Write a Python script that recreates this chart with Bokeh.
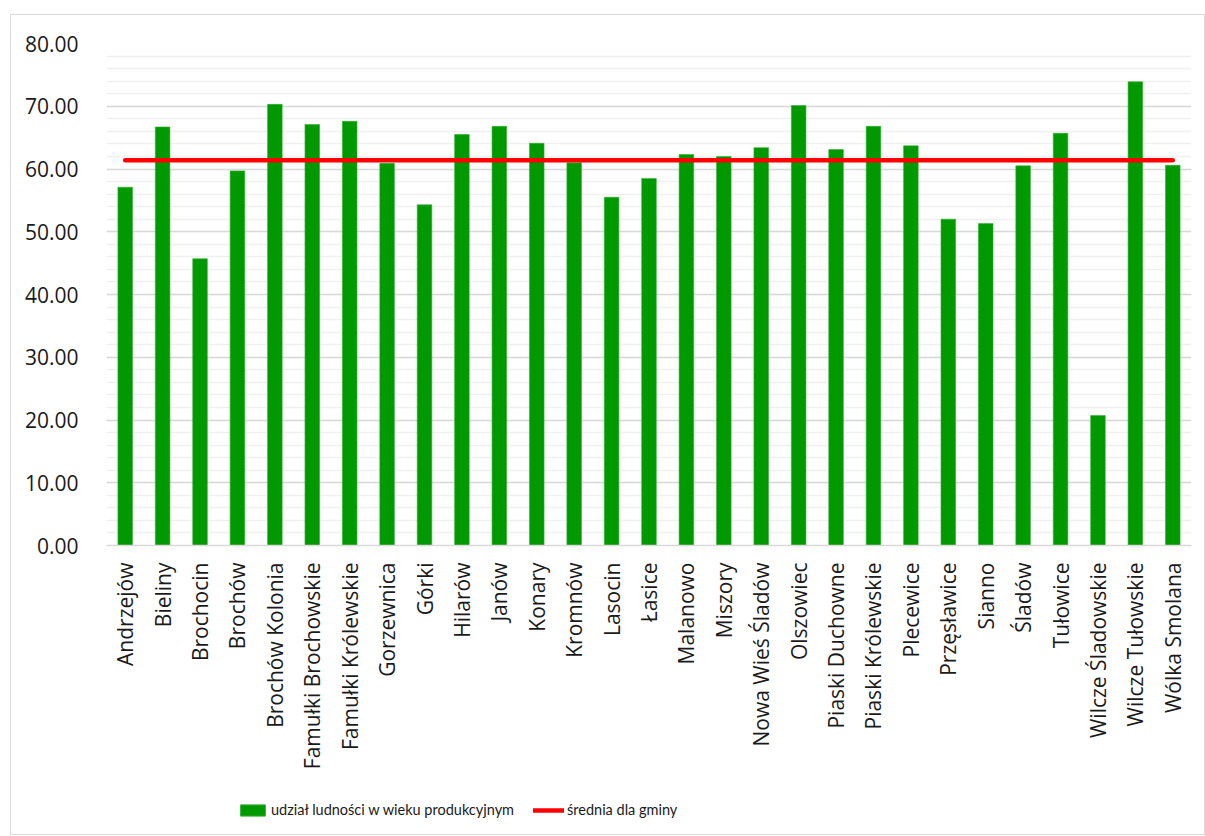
import math
from bokeh.plotting import figure
from bokeh.layouts import column
from bokeh.models import (FactorRange, Range1d, SingleIntervalTicker, NumeralTickFormatter,
                          Legend, LegendItem, ColumnDataSource)
from bokeh.embed import file_html
from bokeh.resources import INLINE

miejscowosci = ["Andrzejów", "Bieliny", "Brochocin", "Brochów", "Brochów Kolonia",
                "Famułki Brochowskie", "Famułki Królewskie", "Gorzewnica", "Górki", "Hilarów",
                "Janów", "Konary", "Kromnów", "Lasocin", "Łasice", "Malanowo", "Miszory",
                "Nowa Wieś Śladów", "Olszowiec", "Piaski Duchowne", "Piaski Królewskie",
                "Plecewice", "Przęsławice", "Sianno", "Śladów", "Tułowice",
                "Wilcze Śladowskie", "Wilcze Tułowskie", "Wólka Smolana"]
udzial = [57.1, 66.7, 45.7, 59.7, 70.3, 67.1, 67.6, 60.9, 54.3, 65.5,
          66.8, 64.1, 61.0, 55.5, 58.5, 62.3, 62.0, 63.4, 70.1, 63.1,
          66.8, 63.7, 52.0, 51.3, 60.5, 65.7, 20.7, 73.9, 60.6]
srednia = 61.4
seria_bar = "udział ludności w wieku produkcyjnym"
seria_line = "średnia dla gminy"

BAR_COLOR = "#009900"
BAR_EDGE = "#33b033"
LINE_COLOR = "#ff0000"

src = ColumnDataSource(dict(x=miejscowosci, y=udzial, avg=[srednia] * len(miejscowosci)))

p = figure(x_range=FactorRange(*miejscowosci, range_padding=0), y_range=Range1d(0, 80),
           width=1193, height=770, output_backend="svg", toolbar_location=None,
           min_border_left=95, min_border_right=13, min_border_top=28, min_border_bottom=240)
p.outline_line_color = None
p.background_fill_color = "white"
p.border_fill_color = "white"

bars = p.vbar(x="x", top="y", width=0.39, source=src, fill_color=BAR_COLOR,
              line_color=BAR_EDGE, line_width=0.6)
line = p.line(x="x", y="avg", source=src, line_color=LINE_COLOR, line_width=4.5, line_cap="round")

p.yaxis.ticker = SingleIntervalTicker(interval=10, num_minor_ticks=5)
p.yaxis.formatter = NumeralTickFormatter(format="0.00")
p.yaxis.axis_line_color = None
p.yaxis.major_tick_line_color = None
p.yaxis.minor_tick_line_color = None
p.yaxis.major_label_standoff = 22
p.yaxis.major_label_text_font = "Open Sans"
p.yaxis.major_label_text_font_size = "21px"
p.yaxis.major_label_text_color = "#1a1a1a"

p.ygrid.grid_line_color = "#d9d9d9"
p.ygrid.grid_line_width = 1.3
p.ygrid.minor_grid_line_color = "#f0f0f0"
p.ygrid.minor_grid_line_width = 1.3
p.xgrid.grid_line_color = None

p.xaxis.axis_line_color = "#d9d9d9"
p.xaxis.axis_line_width = 1.5
p.xaxis.major_tick_line_color = None
p.xaxis.minor_tick_line_color = None
p.xaxis.major_label_orientation = math.pi / 2
p.xaxis.major_label_standoff = 11
p.xaxis.major_label_text_font = "Open Sans"
p.xaxis.major_label_text_font_size = "21px"
p.xaxis.major_label_text_color = "#1a1a1a"

# legend strip below the chart (sample glyphs lie far outside the visible range)
p2 = figure(width=1193, height=49, output_backend="svg", toolbar_location=None,
            x_range=Range1d(0, 1), y_range=Range1d(0, 1), x_axis_type=None, y_axis_type=None,
            min_border=0)
p2.outline_line_color = None
p2.xgrid.visible = False
p2.ygrid.visible = False
lb = p2.vbar(x=[-50], top=[-50], bottom=[-51], width=0.5, fill_color=BAR_COLOR, line_color=BAR_EDGE)
ll = p2.line(x=[-50, -49], y=[-50, -50], line_color=LINE_COLOR, line_width=4.5, line_cap="round")

common = dict(orientation="horizontal", padding=0, margin=0, glyph_width=31, glyph_height=14,
              label_standoff=3, label_text_font="Lato", label_text_font_size="14.5px",
              label_text_color="#1a1a1a", border_line_alpha=0, background_fill_alpha=0)
leg1 = Legend(items=[LegendItem(label=seria_bar, renderers=[lb])], location=(131, 16), **common)
leg2 = Legend(items=[LegendItem(label=seria_line, renderers=[ll])], location=(427, 16), **common)
p2.add_layout(leg1, "center")
p2.add_layout(leg2, "center")

layout = column(p, p2, spacing=0)
layout.styles = {"border": "1px solid #d9d9d9", "margin-top": "14px", "margin-left": "10px"}

open("out.html", "w").write(file_html(layout, INLINE))
